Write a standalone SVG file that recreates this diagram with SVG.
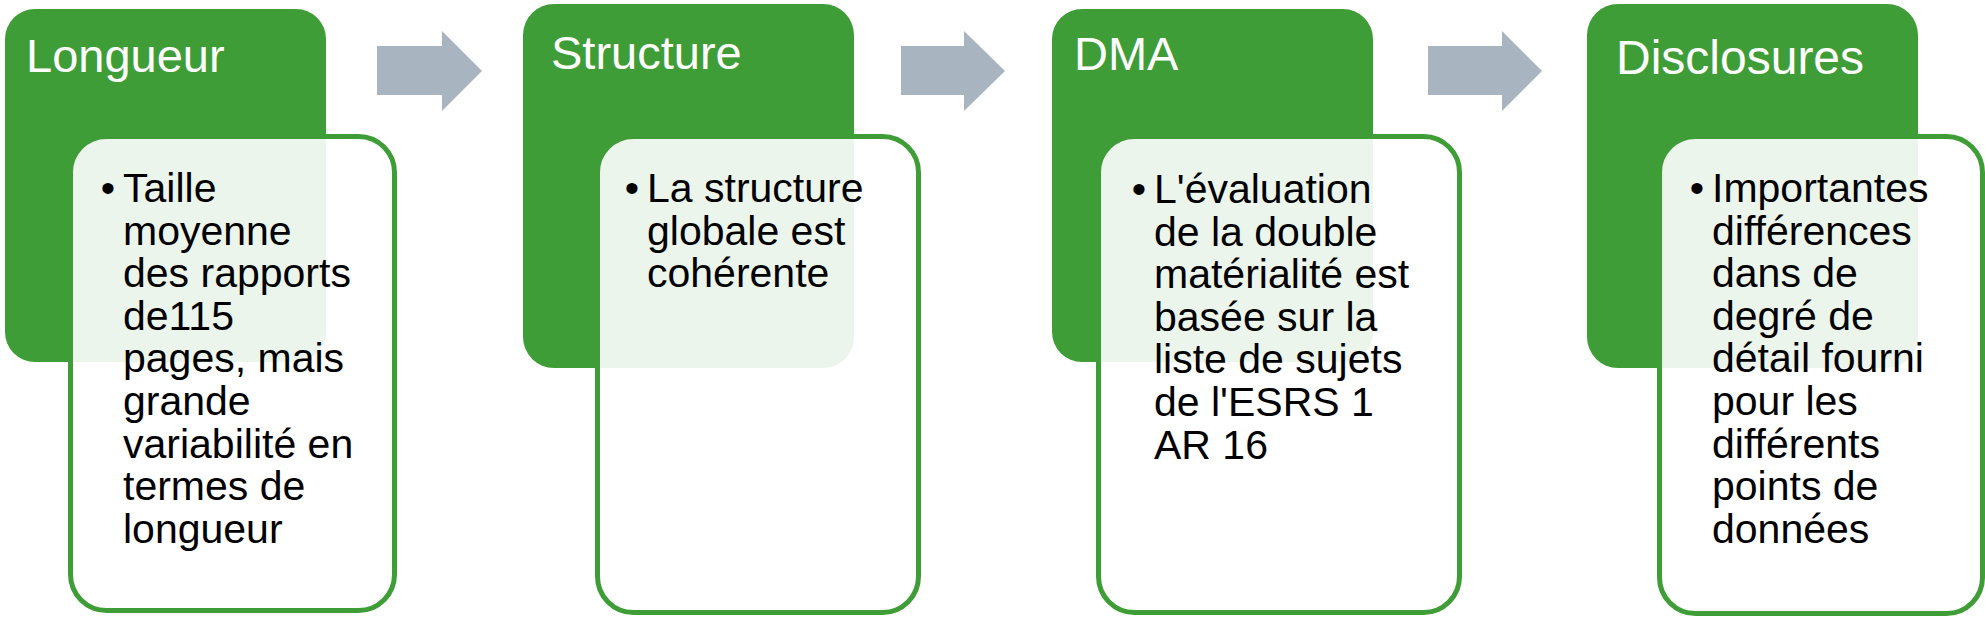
<svg xmlns="http://www.w3.org/2000/svg" width="1985" height="619" viewBox="0 0 1985 619">
<style>
.outer{fill:#3F9D37}
.inner{fill:#ffffff;fill-opacity:0.9;stroke:#3F9D37;stroke-width:5}
.hdr{font-family:"Liberation Sans",Arial,sans-serif;font-size:47px;fill:#ffffff}
.body{font-family:"Liberation Sans",Arial,sans-serif;font-size:41px;fill:#000000}
.arrow{fill:#A9B4C1}
</style>
<rect width="1985" height="619" fill="#ffffff"/>
<g id="connectors">
<polygon class="arrow" points="377,46 442,46 442,31 482,71 442,111 442,95 377,95"/>
<polygon class="arrow" points="901,46 964,46 964,31 1005,71 964,111 964,95 901,95"/>
<polygon class="arrow" points="1428,46 1502,46 1502,31 1542,71 1502,111 1502,95 1428,95"/>
</g>
<g id="node-longueur">
<rect class="outer" x="5" y="9" width="321" height="353" rx="30"/>
<rect class="inner" x="70.5" y="136.5" width="324" height="474" rx="36"/>
<text class="hdr" x="26" y="72">Longueur</text>
<text class="body"><tspan x="108" y="202" text-anchor="middle">•</tspan></text>
<text class="body"><tspan x="123" y="202">Taille</tspan><tspan x="123" y="244.6">moyenne</tspan><tspan x="123" y="287.2">des rapports</tspan><tspan x="123" y="329.8">de115</tspan><tspan x="123" y="372.4">pages, mais</tspan><tspan x="123" y="415">grande</tspan><tspan x="123" y="457.6">variabilité en</tspan><tspan x="123" y="500.2">termes de</tspan><tspan x="123" y="542.8">longueur</tspan></text>
</g>
<g id="node-structure">
<rect class="outer" x="523" y="4" width="331" height="364" rx="31"/>
<rect class="inner" x="597.5" y="136.5" width="321" height="476" rx="36"/>
<text class="hdr" x="551" y="69">Structure</text>
<text class="body"><tspan x="632" y="202" text-anchor="middle">•</tspan></text>
<text class="body"><tspan x="647" y="202">La structure</tspan><tspan x="647" y="244.6">globale est</tspan><tspan x="647" y="287.2">cohérente</tspan></text>
</g>
<g id="node-dma">
<rect class="outer" x="1052" y="9" width="321" height="353" rx="30"/>
<rect class="inner" x="1098.5" y="136.5" width="361" height="476" rx="36"/>
<text class="hdr" x="1074" y="70">DMA</text>
<text class="body"><tspan x="1139" y="203" text-anchor="middle">•</tspan></text>
<text class="body"><tspan x="1154" y="203">L'évaluation</tspan><tspan x="1154" y="245.6">de la double</tspan><tspan x="1154" y="288.2">matérialité est</tspan><tspan x="1154" y="330.8">basée sur la</tspan><tspan x="1154" y="373.4">liste de sujets</tspan><tspan x="1154" y="416">de l'ESRS 1</tspan><tspan x="1154" y="458.6">AR 16</tspan></text>
</g>
<g id="node-disclosures">
<rect class="outer" x="1587" y="4" width="331" height="364" rx="31"/>
<rect class="inner" x="1659.5" y="136.5" width="323" height="477" rx="36"/>
<text class="hdr" x="1616" y="74" style="font-size:48px">Disclosures</text>
<text class="body"><tspan x="1697" y="202" text-anchor="middle">•</tspan></text>
<text class="body"><tspan x="1712" y="202">Importantes</tspan><tspan x="1712" y="244.6">différences</tspan><tspan x="1712" y="287.2">dans de</tspan><tspan x="1712" y="329.8">degré de</tspan><tspan x="1712" y="372.4">détail fourni</tspan><tspan x="1712" y="415">pour les</tspan><tspan x="1712" y="457.6">différents</tspan><tspan x="1712" y="500.2">points de</tspan><tspan x="1712" y="542.8">données</tspan></text>
</g>
</svg>
